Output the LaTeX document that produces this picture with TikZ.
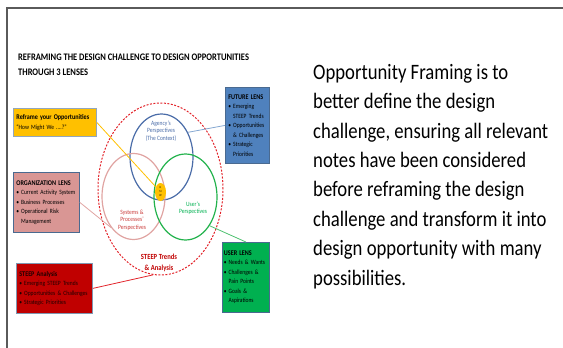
\documentclass[tikz,border=0pt]{standalone}
\usepackage{fontspec}
\setmainfont[FakeStretch=0.85]{Carlito}
\usepackage{tikz}
\usetikzlibrary{shapes.geometric}

\definecolor{framegray}{HTML}{5A5A5A}
\definecolor{futureblue}{HTML}{4F81BD}
\definecolor{boxedge}{HTML}{4A6A90}
\definecolor{hmwgold}{HTML}{FFC000}
\definecolor{orgpink}{HTML}{D99694}
\definecolor{steepred}{HTML}{C00000}
\definecolor{usergreen}{HTML}{00B050}
\definecolor{agencyline}{HTML}{4A6CA8}
\definecolor{systemsline}{HTML}{E0A4A2}
\definecolor{usersline}{HTML}{22B24C}
\definecolor{ringred}{HTML}{E2232A}

\newcommand{\bul}{\mbox{\textbullet}\nobreak\hspace{2pt}}
\newcommand{\hng}{\phantom{\textbullet}\nobreak\hspace{2pt}}
\newcommand{\lenshead}[1]{{\fontsize{7.2}{9.5}\selectfont\textbf{#1}}}

\begin{document}
\begin{tikzpicture}[x=1pt,y=-1pt]

  \tikzstyle{lensbox}=[draw=boxedge,line width=0.8pt,shape=rectangle,anchor=north west,
                       align=left,inner xsep=3pt,inner ysep=2pt,font=\fontsize{6.5}{9.5}\selectfont]
  \tikzstyle{lens}=[shape=ellipse,line width=1.2pt,inner sep=0pt,
                    minimum width=63pt,minimum height=86pt]
  \tikzstyle{lenstext}=[align=center,font=\fontsize{6.5}{7.5}\selectfont]

  \useasboundingbox (0,0) rectangle (563,348);
  \draw[framegray,line width=1.5pt] (563,8) -- (7,8) -- (7,348);

  \node[anchor=north west,align=left,inner sep=0pt,
        font=\bfseries\fontsize{10}{15}\selectfont] (title) at (18,54)
    {REFRAMING THE DESIGN CHALLENGE TO DESIGN OPPORTUNITIES\\THROUGH 3 LENSES};

  % the lenses
  \node[lens,draw=ringred,line width=1pt,dash pattern=on 2pt off 1.5pt,
        minimum width=125pt,minimum height=172pt] (steepring) at (160.5,189) {};
  \node[lens,draw=agencyline]  (agency)  at (161.5,157) {};
  \node[lens,draw=systemsline] (systems) at (133.5,196.5) {};
  \node[lens,draw=usersline]   (users)   at (185.5,197) {};
  \node[shape=ellipse,fill=hmwgold,inner sep=0pt,minimum width=11pt,minimum height=18pt,
        align=center,font=\fontsize{3}{4}\selectfont] (hmw) at (160.5,192) {H\\M\\W};

  \node[lenstext,text=agencyline] (agencytxt) at (161,131) {Agency's\\Perspectives\\(The Context)};
  \node[lenstext,text=steepred!60!orgpink] (systemstxt) at (132,220) {Systems \&\\Processes'\\Perspectives};
  \node[lenstext,text=usergreen] (userstxt) at (193,208) {User's\\Perspectives};
  \node[align=center,text=steepred,font=\bfseries\fontsize{7.8}{11}\selectfont] (steeptxt) at (159,263)
    {STEEP Trends\\\& Analysis};

  % the boxes
  \node[lensbox,fill=hmwgold,draw=boxedge!60,text width=77pt,minimum height=28pt] (reframe) at (13,108)
    {\lenshead{Reframe your Opportunities}\\“How Might We ....?”};
  \node[lensbox,fill=futureblue,draw=boxedge,text width=38pt,minimum height=76pt] (future) at (225,87)
    {\lenshead{FUTURE LENS}\\\bul Emerging\\\hng STEEP Trends\\\bul Opportunities\\\hng \& Challenges\\\bul Strategic\\\hng Priorities};
  \node[lensbox,fill=orgpink,text width=60pt,minimum height=60pt] (orglens) at (13,172)
    {\lenshead{ORGANIZATION LENS}\\\bul Current~Activity~System\\\bul Business Processes\\\bul Operational Risk\\\hng Management};
  \node[lensbox,fill=steepred,draw=boxedge!70,text=black!85!steepred,text width=70pt,minimum height=50pt] (steep) at (16,263)
    {\lenshead{STEEP Analysis}\\\bul Emerging STEEP Trends\\\bul Opportunities~\&~Challenges\\\bul Strategic Priorities};
  \node[lensbox,fill=usergreen,inner xsep=1.5pt,text width=44pt,minimum height=70pt] (userlens) at (222,242)
    {\lenshead{USER LENS}\\\bul Needs~\&~Wants\\\bul Challenges \&\\\hng Pain Points\\\bul Goals \&\\\hng Aspirations};

  \path[line width=0.8pt]
        (reframe.east) edge [draw=hmwgold]        (hmw)
        (future.west)  edge [draw=futureblue!70]  (agency.43)
        (orglens.east) edge [draw=systemsline]    (systems.234)
        (steep.east)   edge [draw=ringred]        (steepring.265)
        (userlens.north) edge [draw=usersline!80] (users.310);

  \node[anchor=north west,align=left,inner sep=0pt,font=\fontsize{22}{29.4}\selectfont] (framing) at (313,64)
    {Opportunity Framing is to\\better define the design\\challenge, ensuring all relevant\\notes have been considered\\before reframing the design\\challenge and transform it into\\design opportunity with many\\possibilities.};
\end{tikzpicture}
\end{document}
